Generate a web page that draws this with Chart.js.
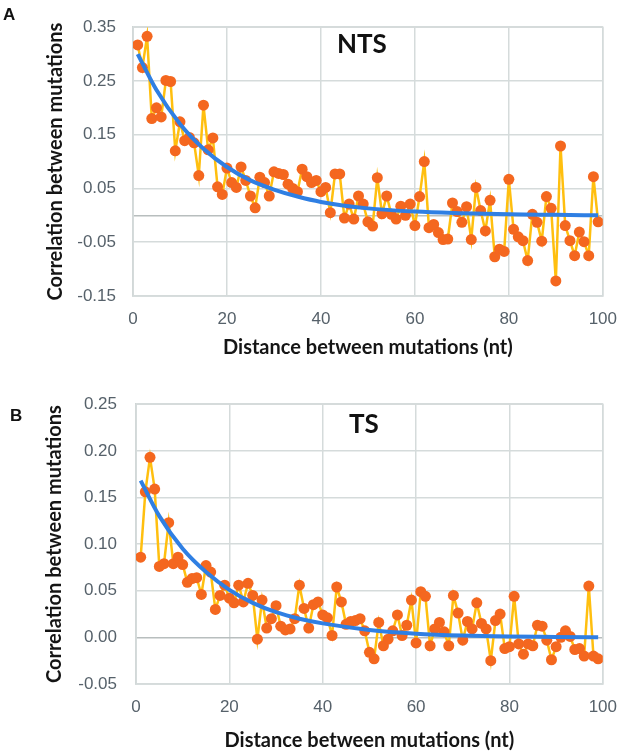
<!DOCTYPE html>
<html lang="en">
<head>
<meta charset="UTF-8">
<title>Correlation between mutations vs distance</title>
<script src="https://cdn.jsdelivr.net/npm/chart.js@4/dist/chart.umd.min.js"></script>
<style>
    body { margin: 0; background: #fff; width: 630px; height: 751px; position: relative; overflow: hidden; }
    canvas { position: absolute; left: 0; }
    .panel { position: absolute; font-family: "Liberation Sans", Arial, sans-serif; font-weight: bold; font-size: 17px; line-height: 17px; color: #111; }
    .strand { position: absolute; font-family: Lato, "Open Sans", sans-serif; font-weight: bold; font-size: 26px; line-height: 26px; color: #111; }
</style>
</head>
<body>
<canvas id="ntsChart" width="630" height="375" style="top:0"></canvas>
<canvas id="tsChart" width="630" height="376" style="top:375px"></canvas>
<div class="panel" style="left:3px;top:6px">A</div>
<div class="panel" style="left:10px;top:407px">B</div>
<div class="strand" style="left:337px;top:30px">NTS</div>
<div class="strand" style="left:349px;top:410px">TS</div>

<script>
    // distance between mutations (nt)
    const distance = [1, 2, 3, 4, 5, 6, 7, 8, 9, 10, 11, 12, 13, 14, 15, 16, 17, 18, 19, 20,
        21, 22, 23, 24, 25, 26, 27, 28, 29, 30, 31, 32, 33, 34, 35, 36, 37, 38, 39, 40,
        41, 42, 43, 44, 45, 46, 47, 48, 49, 50, 51, 52, 53, 54, 55, 56, 57, 58, 59, 60,
        61, 62, 63, 64, 65, 66, 67, 68, 69, 70, 71, 72, 73, 74, 75, 76, 77, 78, 79, 80,
        81, 82, 83, 84, 85, 86, 87, 88, 89, 90, 91, 92, 93, 94, 95, 96, 97, 98, 99];

    // A - NTS correlation
    const ntsCorr = [0.317, 0.275, 0.333, 0.180, 0.200, 0.183, 0.251, 0.249, 0.120, 0.174,
        0.139, 0.145, 0.135, 0.074, 0.205, 0.122, 0.144, 0.053, 0.039, 0.088,
        0.061, 0.052, 0.090, 0.065, 0.036, 0.014, 0.071, 0.061, 0.036, 0.081,
        0.078, 0.076, 0.058, 0.050, 0.044, 0.086, 0.072, 0.061, 0.065, 0.044,
        0.052, 0.005, 0.077, 0.077, -0.005, 0.021, -0.007, 0.036, 0.021, -0.012,
        -0.020, 0.070, 0.003, 0.036, 0.002, -0.007, 0.017, 0.000, 0.021, -0.019,
        0.035, 0.100, -0.023, -0.017, -0.032, -0.045, -0.044, 0.023, 0.007, -0.013,
        0.016, -0.045, 0.052, 0.009, -0.029, 0.028, -0.077, -0.063, -0.067, 0.067,
        -0.026, -0.040, -0.047, -0.084, 0.002, -0.013, -0.048, 0.035, 0.013, -0.122,
        0.129, -0.019, -0.047, -0.075, -0.031, -0.049, -0.075, 0.072, -0.012];

    // B - TS correlation
    const tsCorr = [0.086, 0.156, 0.193, 0.159, 0.076, 0.079, 0.123, 0.079, 0.086, 0.078,
        0.059, 0.063, 0.064, 0.046, 0.077, 0.070, 0.030, 0.045, 0.056, 0.042,
        0.037, 0.056, 0.038, 0.058, 0.045, -0.002, 0.040, 0.010, 0.020, 0.034,
        0.012, 0.008, 0.009, 0.020, 0.056, 0.031, 0.010, 0.035, 0.038, 0.024,
        0.021, 0.002, 0.054, 0.038, 0.014, 0.017, 0.018, 0.020, 0.007, -0.016,
        -0.023, 0.016, -0.009, -0.002, 0.007, 0.024, 0.002, 0.013, 0.040, -0.006,
        0.049, 0.044, -0.009, 0.009, 0.016, 0.006, -0.009, 0.045, 0.026, -0.003,
        0.017, 0.009, 0.037, 0.015, 0.009, -0.025, 0.018, 0.025, -0.012, -0.010,
        0.044, -0.007, -0.018, -0.007, -0.009, 0.013, 0.012, -0.003, -0.024, -0.010,
        0.000, 0.007, 0.001, -0.013, -0.012, -0.020, 0.055, -0.020, -0.023];

    // trend curves
    const trendX = [1, 5, 10, 15, 20, 25, 30, 35, 40, 50, 60, 70, 80, 90, 99];
    const ntsTrend = [0.300, 0.233, 0.170, 0.124, 0.090, 0.065, 0.048, 0.035, 0.025, 0.013, 0.007, 0.004, 0.002, 0.001, 0.000];
    const tsTrend = [0.168, 0.130, 0.095, 0.070, 0.051, 0.037, 0.027, 0.020, 0.015, 0.008, 0.004, 0.002, 0.001, 0.0005, 0.000];

    // tick labels
    const xTicks = [0, 20, 40, 60, 80, 100];
    const ntsYTicks = [-0.15, -0.05, 0, 0.05, 0.15, 0.25, 0.35];
    const tsYTicks = [-0.05, 0, 0.05, 0.10, 0.15, 0.20, 0.25];

    const tickColor = '#56616a';
    const gridColor = '#d5dbdb';
    const zeroColor = '#b8bebe';

    // light frame round the plot area (top and right edges get clipped otherwise)
    const frame = {
        id: 'frame',
        beforeDatasetsDraw(chart) {
            const a = chart.chartArea, c = chart.ctx;
            c.save();
            c.strokeStyle = gridColor;
            c.lineWidth = 1.5;
            c.strokeRect(a.left, a.top, a.right - a.left, a.bottom - a.top);
            c.restore();
        }
    };

    function makeChart(id, values, trend, yTicks, box) {
        const ctx = document.getElementById(id).getContext('2d');
        return new Chart(ctx, {
            type: 'line',
            data: {
                datasets: [{
                    data: trendX.map((x, i) => ({x: x, y: trend[i]})),
                    borderColor: '#2f7fe3',
                    borderWidth: 4,
                    pointRadius: 0,
                    cubicInterpolationMode: 'monotone',
                    order: 0
                }, {
                    data: distance.map((x, i) => ({x: x, y: values[i]})),
                    borderColor: '#ffbf0f',
                    borderWidth: 2.5,
                    pointRadius: 5.5,
                    pointBackgroundColor: '#f4671f',
                    pointBorderWidth: 0,
                    tension: 0,
                    order: 1
                }]
            },
            plugins: [frame],
            options: {
                responsive: false,
                animation: false,
                devicePixelRatio: 1,
                layout: {padding: {top: box.top, right: box.right, left: 0, bottom: 0}},
                plugins: {legend: {display: false}, tooltip: {enabled: false}},
                scales: {
                    x: {
                        type: 'linear',
                        min: 0,
                        max: 100,
                        afterBuildTicks: s => { s.ticks = xTicks.map(v => ({value: v})); },
                        afterFit: s => { s.height = box.xHeight; },
                        grid: {color: gridColor, lineWidth: 1.5, drawTicks: false},
                        border: {display: true, color: gridColor, width: 1.5},
                        ticks: {color: tickColor, padding: 13, font: {family: '"Liberation Sans", Arial', size: 17}},
                        title: {
                            display: true,
                            text: 'Distance between mutations (nt)',
                            color: '#151515',
                            padding: {top: 0, bottom: box.xTitlePad},
                            font: {family: 'Lato', weight: 'bold', size: 20, lineHeight: 1}
                        }
                    },
                    y: {
                        min: yTicks[0],
                        max: yTicks[yTicks.length - 1],
                        afterBuildTicks: s => { s.ticks = yTicks.map(v => ({value: v})); },
                        afterFit: s => { s.width = box.left; },
                        grid: {
                            color: c => (c.tick && c.tick.value === 0) ? zeroColor : gridColor,
                            lineWidth: 1.5,
                            drawTicks: false
                        },
                        border: {display: true, color: '#c9cfcf', width: 1.5},
                        ticks: {
                            color: tickColor,
                            padding: box.yTickPad,
                            font: {family: '"Liberation Sans", Arial', size: 17},
                            callback: v => (v === 0 && yTicks === ntsYTicks) ? '' : v.toFixed(2)
                        },
                        title: {
                            display: true,
                            text: 'Correlation between mutations',
                            color: '#151515',
                            padding: {top: box.yTitlePad, bottom: 0},
                            font: {family: 'Lato', weight: 'bold', size: 20, lineHeight: 1}
                        }
                    }
                }
            }
        });
    }

    makeChart('ntsChart', ntsCorr, ntsTrend, ntsYTicks,
        {top: 10, right: 22, left: 133, xHeight: 79, xTitlePad: 17, yTitlePad: 46, yTickPad: 17});
    makeChart('tsChart', tsCorr, tsTrend, tsYTicks,
        {top: 23, right: 18, left: 136, xHeight: 67, xTitlePad: 0, yTitlePad: 45, yTickPad: 19});
</script>
</body>
</html>
